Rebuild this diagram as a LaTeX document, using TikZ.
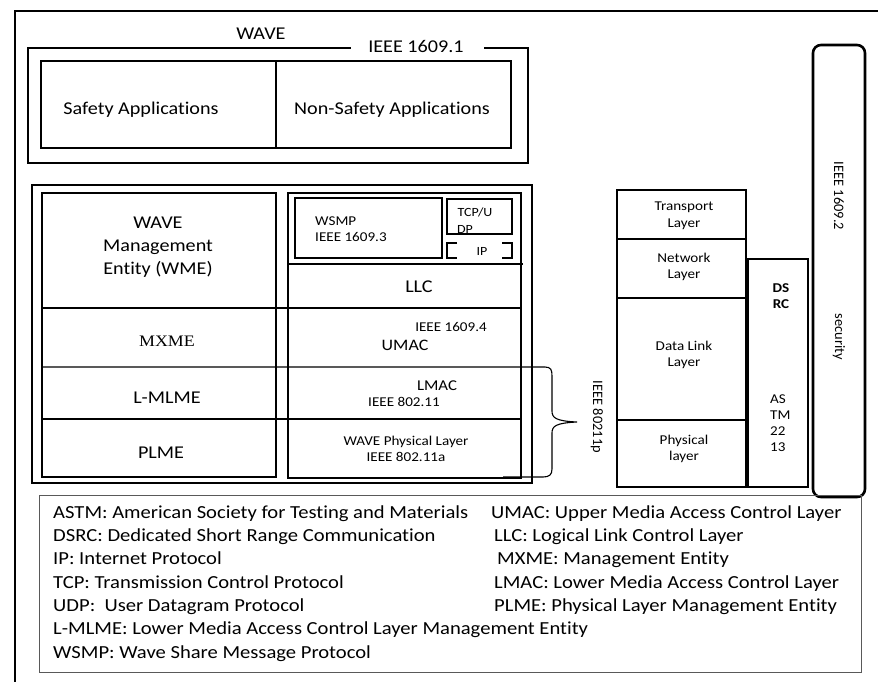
\documentclass[tikz,border=0pt]{standalone}
\usepackage{fontspec}
\setmainfont{Carlito}[FakeStretch=1.12,RawFeature={-liga}]
\newfontfamily\rotfont{Carlito}[RawFeature={-liga}]
\newfontfamily\mxfont{Liberation Serif}[FakeStretch=1.12]
\begin{document}
\begin{tikzpicture}[x=1pt,y=-1pt,
  thickbox/.style={line width=2.6pt},
  thinline/.style={line width=1.1pt},
  lbl/.style={inner sep=0pt, font=\fontsize{18}{23}\selectfont, align=center},
  lblb/.style={inner sep=0pt, font=\fontsize{18}{23}\selectfont, anchor=base},
  sm/.style={inner sep=0pt, font=\fontsize{13.5}{16.5}\selectfont, align=center},
  smb/.style={inner sep=0pt, font=\fontsize{13.5}{16.5}\selectfont, anchor=base},
  tiny/.style={inner sep=0pt, font=\fontsize{12.5}{15}\selectfont, anchor=base},
  smL/.style={inner sep=0pt, font=\fontsize{13.5}{16}\selectfont, align=left, anchor=west},
  rot/.style={inner sep=0pt, font=\rotfont\fontsize{14.4}{17}\selectfont, rotate=-90},
  leg/.style={inner sep=0pt, font=\fontsize{18.4}{22}\selectfont, anchor=base west}]
\useasboundingbox (0,0) rectangle (878,682);
\fill[white] (0,0) rectangle (878,682);
% outer frame
\draw[line width=2pt] (15,682) -- (15,11.5) -- (878,11.5);
\node[lblb] (wave) at (261,40) {WAVE};
% IEEE 1609.1 block
\draw[thickbox] (28,48) rectangle (528,163);
\draw[thickbox] (41,61) rectangle (511,148);
\draw[thinline] (276,61) -- (276,148);
\fill[white] (351,38) rectangle (484,58);
\node[lblb] (ieee1) at (416,53) {IEEE 1609.1};
\node[lblb] (safety) at (141,115) {Safety Applications};
\node[lblb] (nonsafety) at (392,115) {Non-Safety Applications};
% middle block
\draw[thickbox] (32,185) rectangle (532,483);
\draw[thickbox] (42,193) rectangle (276,477);
\draw[thickbox] (288,193) rectangle (521,478);
\draw[thinline] (42,308) -- (521,308);
\draw[thinline] (42,419) -- (521,419);
\draw[thinline] (288,264) -- (523,264);
\draw[thickbox] (295,198) rectangle (442,258);
\draw[thickbox] (447,199) rectangle (512,234);
\draw[thickbox] (457,243) -- (447,243) -- (447,258) -- (457,258);
\draw[thickbox] (502,243) -- (512,243) -- (512,258) -- (502,258);
% brace
\draw[thinline] (42,367) -- (545,367) .. controls (551,367) and (552,370) .. (552,376) -- (552,411)
  .. controls (552,418) and (556,421) .. (577,422) .. controls (556,423) and (552,426) .. (552,433)
  -- (552,469) .. controls (552,475) and (549,477) .. (543,477) -- (503,477);
\node[lbl] (wme) at (158,247) {WAVE\\Management\\Entity (WME)};
\node[inner sep=0pt, font=\mxfont\fontsize{16}{19}\selectfont, anchor=base] (mxme) at (167,346) {MXME};
\node[lblb] (lmlme) at (167,403) {L-MLME};
\node[lblb] (plme) at (161,458) {PLME};
\node[smL] (wsmp) at (315,229) {WSMP\\IEEE 1609.3};
\node[tiny] (tcp) at (475,216) {TCP/U};
\node[tiny] (dp) at (465,233) {DP};
\node[tiny] (ip) at (482,255) {IP};
\node[lblb] (llc) at (419,292) {LLC};
\node[smb] (i16094) at (451,331) {IEEE 1609.4};
\node[inner sep=0pt, font=\fontsize{16}{19}\selectfont, anchor=base] (umac) at (405,350) {UMAC};
\node[inner sep=0pt, font=\fontsize{15}{18}\selectfont, anchor=base] (lmac) at (437,390) {LMAC};
\node[smb] (i80211) at (404,406) {IEEE 802.11};
\node[sm] (phy) at (406,449) {WAVE Physical Layer\\IEEE 802.11a};
\node[rot] (p80211p) at (597,417) {IEEE 80211p};
% right stack
\draw[thickbox] (617,190) rectangle (746,487);
\draw[thinline] (617,239) -- (746,239);
\draw[thinline] (617,298) -- (746,298);
\draw[thinline] (617,420) -- (746,420);
\node[sm] (transport) at (684,216) {Transport\\Layer};
\node[sm] (network) at (684,267) {Network\\Layer};
\node[sm] (datalink) at (684,355) {Data Link\\Layer};
\node[sm] (physical) at (684,449) {Physical\\layer};
\draw[thickbox] (748,259) rectangle (808,487);
\node[sm, font=\bfseries\fontsize{13.5}{16.5}\selectfont] (dsrc) at (781,296) {DS\\RC};
\node[smL] (astm) at (770,423) {AS\\TM\\22\\13};
% security
\draw[thickbox, rounded corners=8pt] (813,45) rectangle (865,497);
\node[rot] (i16092) at (839,196) {IEEE 1609.2};
\node[rot] (security) at (839,337) {security};
% legend
\draw[line width=1pt, black!65] (39,495) rectangle (861,672);
\node[leg] (l1) at (53,518) {ASTM: American Society for Testing and Materials};
\node[leg] (l2) at (53,541.5) {DSRC: Dedicated Short Range Communication};
\node[leg] (l3) at (53,564.5) {IP: Internet Protocol};
\node[leg] (l4) at (53,588) {TCP: Transmission Control Protocol};
\node[leg] (l5) at (53,611.5) {UDP:\ \ User Datagram Protocol};
\node[leg] (l6) at (53,634.5) {L-MLME: Lower Media Access Control Layer Management Entity};
\node[leg] (l7) at (53,658) {WSMP: Wave Share Message Protocol};
\node[leg] (r1) at (491,518) {UMAC: Upper Media Access Control Layer};
\node[leg] (r2) at (494,541.5) {LLC: Logical Link Control Layer};
\node[leg] (r3) at (497,564.5) {MXME: Management Entity};
\node[leg] (r4) at (494,588) {LMAC: Lower Media Access Control Layer};
\node[leg] (r5) at (494,611.5) {PLME: Physical Layer Management Entity};
\end{tikzpicture}
\end{document}
